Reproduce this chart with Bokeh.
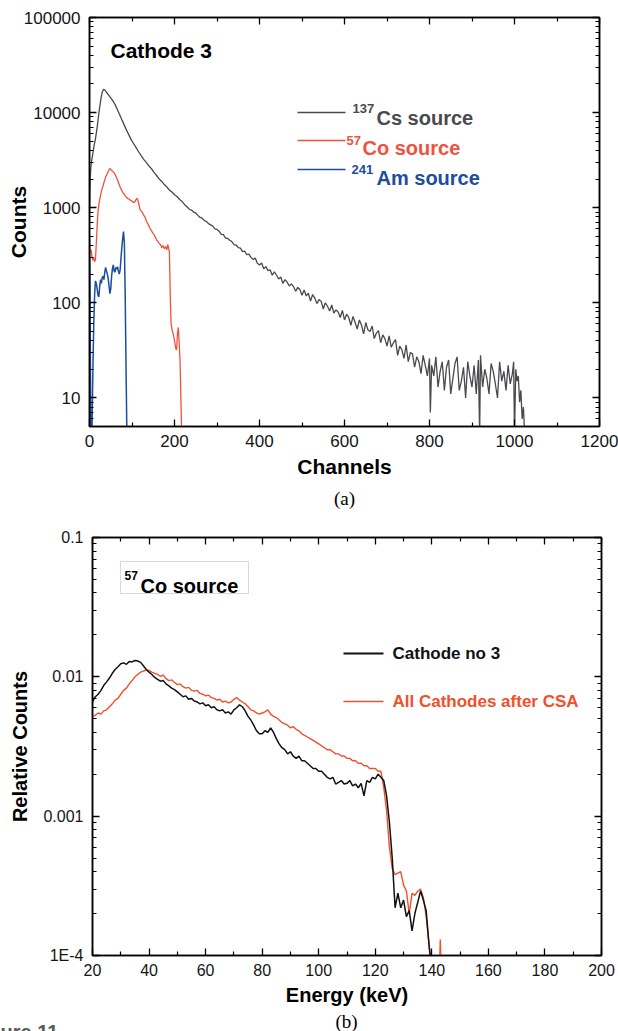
from bokeh.plotting import figure
from bokeh.models import (FixedTicker, LogAxis, LinearAxis, Label, BoxAnnotation,
                          Range1d, PrintfTickFormatter)
from bokeh.layouts import column
from bokeh.embed import file_html
from bokeh.resources import INLINE

# ---------------- data: panel (a) ----------------
cs_channels = [0, 1, 2, 3, 5, 7, 10, 14, 18, 21, 24, 27, 30, 33, 36, 40, 45, 50, 55, 60, 65, 70, 75, 80,
               86, 92, 98, 104, 110, 116, 122, 128, 134, 140, 146, 152, 158, 164, 170, 176, 182, 188,
               194, 200, 206, 212, 218, 224, 230, 236,
               240, 245, 250, 255, 260, 265, 270, 275, 280, 285, 290, 295, 300, 305, 310, 315, 320, 325,
               330, 335, 340, 345, 350, 355, 360, 365, 370, 375, 380, 385, 390, 395, 400, 405, 410, 415,
               420, 425, 430, 435, 440, 445, 450, 455, 460, 465, 470, 475, 480, 485, 490, 495, 500, 505,
               510, 515, 520, 525, 530, 535, 540, 545, 550, 555, 560, 565, 570, 575, 580, 585, 590, 595,
               600, 605, 610, 615, 620, 625, 630, 635, 640, 645, 650, 655, 660, 665, 670, 675, 680, 685,
               690, 695, 700, 705, 710, 715, 720, 725, 730, 735, 740, 745, 750, 755, 760, 765, 770, 775,
               780, 785, 790, 795, 800,
               802, 805, 810, 815, 820, 825, 830, 835, 840, 845, 850, 855, 860, 865, 870, 875, 880, 885,
               890, 895, 900, 905, 910, 915, 918, 920, 925, 930, 935, 940, 945, 950, 955, 960, 965, 970,
               975, 980, 985, 990, 995, 998, 1000, 1003, 1006, 1009, 1012, 1015, 1018, 1021, 1024]
cs_counts = [900, 1500, 2100, 2600, 3100, 3500, 4300, 5300, 7000, 9000, 11500, 14000, 16500, 17600, 17300,
             16300, 15300, 14300, 13300, 12200, 10900, 9700, 8600, 7700, 6700, 5900, 5200, 4700, 4250,
             3850, 3500, 3200, 2980, 2740, 2560, 2340, 2180, 2000, 1890, 1750, 1650, 1530, 1460, 1370,
             1310, 1220, 1160, 1075, 1015, 955,
             945, 900, 880, 830, 790, 775, 735, 715, 680, 660, 640, 600, 590, 565, 525, 520, 480, 475,
             455, 440, 410, 405, 380, 375, 345, 350, 320, 325, 300, 285, 295, 260, 250, 262, 228, 240,
             218, 222, 195, 212, 196, 178, 187, 160, 175, 165, 150, 158, 148, 132, 145, 138, 120, 136,
             118, 126, 104, 122, 112, 98, 108, 104, 86, 100, 92, 82, 95, 78, 84, 80, 70, 83,
             66, 76, 70, 58, 72, 62, 53, 66, 58, 47, 62, 52, 50, 57, 42, 48, 51, 38,
             46, 42, 35, 45, 34, 38, 41, 28, 35, 32, 26, 36, 24, 30, 29, 21, 27, 24,
             18, 28, 22, 17, 26,
             7, 22, 17, 27, 13, 19, 24, 12, 21, 25, 11, 16, 23, 27, 12, 15, 21, 10,
             24, 17, 13, 22, 11, 25, 4, 28, 13, 20, 16, 11, 23, 19, 14, 10, 24, 15,
             19, 12, 22, 14, 18, 24, 4, 20, 15, 17, 9, 12, 6, 8, 4]

co_channels = [0, 2, 4, 6, 8, 10, 12, 14, 16, 18, 20, 23, 26, 29, 32, 35, 38, 41, 44, 47, 49, 51, 54, 57,
               60, 63, 66, 69, 72, 75, 78, 81, 84, 87, 90, 93, 96, 99, 102, 105, 108, 111, 113, 116,
               119, 122, 125, 128, 131, 134, 137, 140, 143, 146, 149, 152, 155, 158, 161, 164, 167,
               170, 173, 176, 179, 182, 184, 186, 188, 190, 192, 195, 198, 200, 203, 205, 207, 209,
               211, 213, 215, 217]
co_counts = [380, 330, 360, 300, 280, 300, 270, 285, 420, 650, 900, 1150, 1350, 1550, 1700, 1900, 2100,
             2250, 2400, 2550, 2580, 2500, 2420, 2350, 2250, 2100, 1950, 1800, 1650, 1550, 1450, 1400,
             1330, 1290, 1250, 1230, 1200, 1180, 1150, 1130, 1180, 1250, 1240, 1100, 950, 920, 880,
             830, 790, 720, 680, 640, 600, 570, 540, 520, 490, 460, 440, 420, 410, 380, 400, 370, 390,
             360, 410, 380, 340, 120, 60, 50, 45, 40, 33, 32, 48, 55, 38, 25, 10, 4]

am_channels = [0, 1, 2, 3, 4, 6, 8, 10, 12, 14, 16, 18, 20, 22, 24, 26, 28, 30, 32, 34, 36, 38, 40, 42,
               44, 46, 48, 50, 52, 54, 56, 58, 60, 62, 64, 66, 68, 70, 72, 74, 76, 78, 80, 82, 84, 86,
               88]
am_counts = [480, 200, 30, 5, 3, 5, 20, 60, 120, 170, 160, 140, 120, 115, 150, 175, 160, 185, 190, 175,
             210, 235, 215, 200, 180, 150, 125, 140, 190, 230, 250, 215, 210, 235, 225, 240, 215, 200,
             220, 290, 380, 470, 560, 430, 120, 20, 4]

# ---------------- data: panel (b) ----------------
e_cath3 = list(range(20, 141))
rel_cath3 = [0.0066, 0.0072, 0.0075, 0.0080, 0.0087, 0.0092, 0.0098, 0.0106, 0.0113, 0.0118,
             0.0124, 0.0126, 0.0123, 0.0129, 0.0128, 0.0131, 0.0130, 0.0127, 0.0120, 0.0113,
             0.0108, 0.0104, 0.0099, 0.0096, 0.0093, 0.0094, 0.0089, 0.0086, 0.0083, 0.0081,
             0.0078, 0.0075, 0.0072, 0.0073, 0.0069, 0.0070, 0.0067, 0.0066, 0.0064, 0.0065,
             0.0062, 0.0063, 0.0060, 0.0061, 0.0058, 0.0057, 0.0058, 0.0055, 0.0056, 0.0054,
             0.0058, 0.0060, 0.0063, 0.0061, 0.0057, 0.0052, 0.0049, 0.0045, 0.0041, 0.0039,
             0.0039, 0.0041, 0.0040, 0.0043, 0.0040, 0.0036, 0.0033, 0.0031, 0.0030, 0.0028,
             0.0029, 0.0027, 0.0026, 0.0027, 0.0025, 0.0025, 0.0024, 0.0023, 0.0022, 0.0022,
             0.0021, 0.0021, 0.0020, 0.0019, 0.00185, 0.0019, 0.0017, 0.00175, 0.0018, 0.0017,
             0.00172, 0.0018, 0.00165, 0.0017, 0.0016, 0.00172, 0.0014, 0.0018, 0.00175, 0.0019,
             0.00185, 0.0020, 0.0019, 0.0018, 0.0014, 0.0009, 0.0005, 0.00022, 0.00028, 0.00022,
             0.00025, 0.00019, 0.00021, 0.00015, 0.0002, 0.00024, 0.00029, 0.00025, 0.00021,
             0.00012, 0.00008]
e_all = list(range(20, 141)) + [142.5, 143, 143.5]
rel_all = [0.0052, 0.0053, 0.0055, 0.0054, 0.0057, 0.0058, 0.0061, 0.0064, 0.0068, 0.0070,
           0.0075, 0.0080, 0.0083, 0.0089, 0.0094, 0.0100, 0.0104, 0.0108, 0.0110, 0.0112,
           0.0111, 0.0108, 0.0106, 0.0104, 0.0101, 0.0103, 0.0097, 0.0094, 0.0095, 0.0091,
           0.0088, 0.0089, 0.0085, 0.0083, 0.0084, 0.0080, 0.0079, 0.0080, 0.0076, 0.0075,
           0.0073, 0.0074, 0.0071, 0.0070, 0.0068, 0.0069, 0.0066, 0.0067, 0.0065, 0.0066,
           0.0069, 0.0071, 0.0068, 0.0066, 0.0064, 0.0061, 0.0058, 0.0057, 0.0055, 0.0054,
           0.0055, 0.0056, 0.0058, 0.0054, 0.0052, 0.0051, 0.0049, 0.0047, 0.0046, 0.0045,
           0.0043, 0.0044, 0.0042, 0.0041, 0.0039, 0.0038, 0.0037, 0.0036, 0.0035, 0.0034,
           0.0033, 0.0032, 0.0031, 0.0030, 0.0030, 0.0029, 0.0028, 0.0028, 0.0027, 0.0027,
           0.0026, 0.0026, 0.0025, 0.0025, 0.0024, 0.0024, 0.0023, 0.0023, 0.0022, 0.0022,
           0.0022, 0.0021, 0.0021, 0.0016, 0.0011, 0.0006, 0.00042, 0.00038, 0.00039, 0.00040,
           0.00032, 0.00029, 0.00020, 0.00028, 0.00027, 0.00029, 0.00030, 0.00026, 0.00019,
           0.00012, 0.00006, 0.00006, 0.00013, 0.00006]

x_ticks_a = [0, 200, 400, 600, 800, 1000, 1200]
y_ticks_a = [10, 100, 1000, 10000, 100000]
x_ticks_b = [20, 40, 60, 80, 100, 120, 140, 160, 180, 200]
y_ticks_b = [0.0001, 0.001, 0.01, 0.1]
y_labels_b = ["1E-4", "0.001", "0.01", "0.1"]

# ---------------- styling ----------------
FONT = "Liberation Sans"
GRAY = "#4a4a4c"
RED = "#f0523f"
BLUE = "#1c4d9e"
BLACK = "#111111"
ORANGE = "#f0502c"
W = 618


def log_minor(lo_exp, hi_exp, start=None):
    out = []
    for e in range(lo_exp, hi_exp):
        for k in range(2, 10):
            v = k * 10.0 ** e
            if start is None or v >= start:
                out.append(v)
    return out


def style_axis(ax, size, standoff=9):
    ax.major_tick_in = 7
    ax.major_tick_out = 0
    ax.minor_tick_in = 4
    ax.minor_tick_out = 0
    ax.axis_line_width = 1.5
    ax.axis_line_color = "black"
    ax.major_tick_line_width = 1.3
    ax.minor_tick_line_width = 1.2
    ax.major_tick_line_color = "black"
    ax.minor_tick_line_color = "black"
    ax.major_label_text_font = FONT
    ax.major_label_text_font_size = size
    ax.major_label_text_color = "#151515"
    ax.major_label_standoff = standoff


def hidden_axis(ax, ticks):
    style_axis(ax, "1px", 0)
    ax.major_label_text_alpha = 0
    ax.major_label_overrides = {t: " " for t in ticks}
    ax.axis_label = None


def lbl(p, x, y, text, size, color="black", bold=True, font=FONT, align="left",
        baseline="alphabetic", angle=0.0):
    p.add_layout(Label(x=x, y=y, x_units="screen", y_units="screen", text=text,
                       text_font=font, text_font_size=size, text_color=color,
                       text_font_style="bold" if bold else "normal",
                       text_align=align, text_baseline=baseline, angle=angle))


def hline(p, x0, x1, y, color, w=1.5):
    p.add_layout(BoxAnnotation(left=x0, right=x1, bottom=y - w / 2, top=y + w / 2,
                               left_units="screen", right_units="screen",
                               bottom_units="screen", top_units="screen",
                               fill_color=color, fill_alpha=1.0, line_color=None))


def axis_title(ax, text, size, standoff):
    ax.axis_label = text
    ax.axis_label_text_font = FONT
    ax.axis_label_text_font_size = size
    ax.axis_label_text_font_style = "bold"
    ax.axis_label_text_color = "black"
    ax.axis_label_standoff = standoff


def strip(height):
    s = figure(width=W, height=height, x_range=Range1d(0, W), y_range=Range1d(0, height),
               x_axis_location=None, y_axis_location=None,
               output_backend="svg", toolbar_location=None, frame_align=False,
               min_border_left=0, min_border_right=0, min_border_top=0, min_border_bottom=0)
    s.grid.visible = False
    s.outline_line_color = None
    s.background_fill_color = "white"
    s.border_fill_color = "white"
    return s


# ---------------- panel (a) ----------------
pa = figure(width=W, height=484, y_axis_type="log",
            x_range=Range1d(0, 1200), y_range=Range1d(5, 100000),
            output_backend="svg", toolbar_location=None, frame_align=False,
            min_border_left=89, min_border_right=19, min_border_top=17, min_border_bottom=58)
pa.grid.visible = False
pa.outline_line_color = "black"
pa.outline_line_width = 1.5
pa.background_fill_color = "white"
pa.border_fill_color = "white"

xt_a = FixedTicker(ticks=x_ticks_a, minor_ticks=[100, 300, 500, 700, 900, 1100])
yt_a = FixedTicker(ticks=y_ticks_a, minor_ticks=log_minor(0, 5, start=5))

pa.xaxis.ticker = xt_a
pa.yaxis.ticker = yt_a
pa.yaxis.formatter = PrintfTickFormatter(format="%d")
for ax in pa.xaxis:
    style_axis(ax, "17px", 8)
    axis_title(ax, "Channels", "21px", 5)
for ax in pa.yaxis:
    style_axis(ax, "17px", 9)
    axis_title(ax, "Counts", "21px", -9)

top_a = LinearAxis(ticker=xt_a)
hidden_axis(top_a, x_ticks_a)
pa.add_layout(top_a, "above")
right_a = LogAxis(ticker=yt_a)
hidden_axis(right_a, y_ticks_a)
pa.add_layout(right_a, "right")

pa.line(cs_channels, cs_counts, line_color=GRAY, line_width=1.3)
pa.line(co_channels, co_counts, line_color=RED, line_width=1.3)
pa.line(am_channels, am_counts, line_color=BLUE, line_width=1.5)

# texts / legend of (a)  (screen units relative to the frame's bottom-left)
lbl(pa, 21, 376, "Cathode 3", "21px")
hline(pa, 208, 256, 314, GRAY)
hline(pa, 208, 256, 286, RED)
hline(pa, 208, 256, 257, BLUE)
lbl(pa, 263, 318, "137", "13px", color=GRAY)
lbl(pa, 287, 309, "Cs source", "20px", color=GRAY)
lbl(pa, 257, 286, "57", "13px", color=RED)
lbl(pa, 273, 279, "Co source", "20px", color=RED)
lbl(pa, 262, 257, "241", "13px", color=BLUE)
lbl(pa, 287, 249, "Am source", "20px", color=BLUE)

sa = strip(26)
lbl(sa, 344, 12, "(a)", "19px", bold=False, font="Liberation Serif", align="center", baseline="middle")

# ---------------- panel (b) ----------------
pb = figure(width=W, height=500, y_axis_type="log",
            x_range=Range1d(20, 200), y_range=Range1d(0.0001, 0.1),
            output_backend="svg", toolbar_location=None, frame_align=False,
            min_border_left=92, min_border_right=17, min_border_top=27, min_border_bottom=55)
pb.grid.visible = False
pb.outline_line_color = "black"
pb.outline_line_width = 1.5
pb.background_fill_color = "white"
pb.border_fill_color = "white"

xt_b = FixedTicker(ticks=x_ticks_b, minor_ticks=[30, 50, 70, 90, 110, 130, 150, 170, 190])
yt_b = FixedTicker(ticks=y_ticks_b, minor_ticks=log_minor(-4, -1))
pb.xaxis.ticker = xt_b
pb.yaxis.ticker = yt_b
for ax in pb.xaxis:
    style_axis(ax, "16px", 8)
    axis_title(ax, "Energy (keV)", "20px", 5)
for ax in pb.yaxis:
    style_axis(ax, "16px", 9)
    ax.major_label_overrides = dict(zip(y_ticks_b, y_labels_b))
    axis_title(ax, "Relative Counts", "20px", 9)

top_b = LinearAxis(ticker=xt_b)
hidden_axis(top_b, x_ticks_b)
pb.add_layout(top_b, "above")
right_b = LogAxis(ticker=yt_b)
hidden_axis(right_b, y_ticks_b)
pb.add_layout(right_b, "right")

pb.line(e_all, rel_all, line_color=ORANGE, line_width=1.4)
pb.line(e_cath3, rel_cath3, line_color=BLACK, line_width=1.5)

pb.add_layout(BoxAnnotation(left=28, right=156, bottom=362, top=394,
                            left_units="screen", right_units="screen",
                            bottom_units="screen", top_units="screen",
                            fill_color="white", fill_alpha=1.0,
                            line_color="#808080", line_width=1))
lbl(pb, 32, 380, "57", "12px")
lbl(pb, 48, 370, "Co source", "20px")
hline(pb, 251, 291, 302, BLACK, 2)
hline(pb, 251, 291, 254, ORANGE, 1.6)
lbl(pb, 300, 302, "Cathode no 3", "17px", color=BLACK, baseline="middle")
lbl(pb, 300, 254, "All Cathodes after CSA", "17px", color=ORANGE, baseline="middle")

sb = strip(21)
lbl(sb, 346, 10, "(b)", "19px", bold=False, font="Liberation Serif", align="center", baseline="middle")
lbl(sb, 0, 0, "ure 11", "20px", color="#5a5a5a")

layout = column(pa, sa, pb, sb, spacing=0)
open("out.html", "w").write(file_html(layout, INLINE))
